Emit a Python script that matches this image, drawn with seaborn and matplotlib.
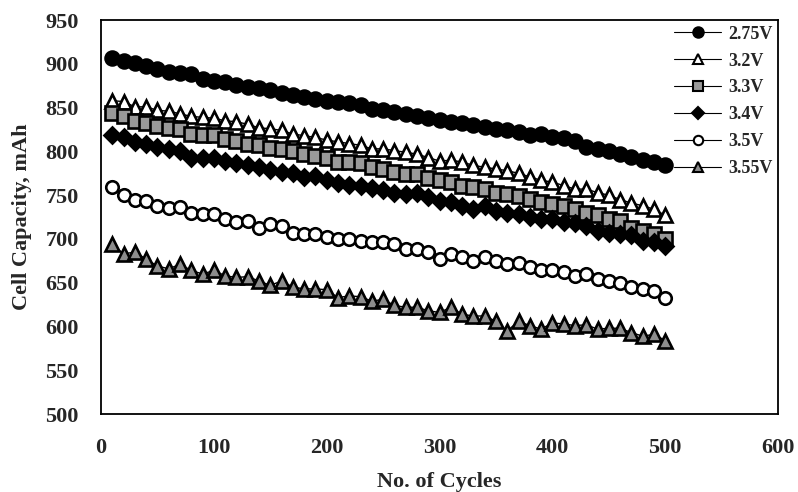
import numpy as np
import pandas as pd
import matplotlib
matplotlib.use("Agg")
import matplotlib.pyplot as plt
import seaborn as sns

# cycles 10..500, every 10 cycles
cycles = list(range(10, 510, 10))

v275 = [907, 903, 901, 898, 894, 891, 890, 888, 883, 881, 879, 876, 874, 872, 870, 867, 865, 862, 860,
        858, 857, 855, 853, 849, 847, 845, 843, 841, 838, 836, 834, 833, 830, 828, 826, 825, 822, 819,
        820, 816, 815, 812, 805, 803, 801, 797, 794, 790, 788, 785]
v32 = [858, 857, 851, 851, 847, 846, 843, 840, 839, 838, 835, 834, 831, 827, 826, 824, 820, 818, 816,
       813, 811, 809, 807, 803, 803, 801, 799, 797, 793, 789, 790, 788, 784, 782, 780, 778, 775, 771,
       767, 765, 761, 757, 757, 753, 750, 745, 741, 738, 734, 727]
v33 = [844, 840, 835, 833, 829, 827, 826, 820, 819, 819, 814, 812, 809, 807, 804, 803, 800, 797, 795,
       793, 788, 788, 787, 782, 780, 776, 774, 774, 770, 767, 765, 761, 759, 757, 753, 751, 749, 746,
       742, 740, 738, 734, 730, 727, 723, 721, 713, 709, 706, 700]
v34 = [819, 816, 811, 809, 805, 803, 800, 793, 793, 792, 789, 787, 785, 782, 779, 776, 775, 771, 772,
       767, 764, 762, 761, 758, 756, 753, 751, 752, 748, 743, 742, 738, 734, 738, 732, 730, 728, 725,
       723, 723, 719, 718, 715, 709, 707, 706, 704, 698, 696, 692]
v35 = [759, 750, 744, 743, 738, 735, 736, 730, 729, 728, 723, 719, 721, 713, 717, 715, 707, 706, 706,
       702, 700, 700, 698, 696, 697, 694, 689, 689, 685, 677, 683, 679, 675, 679, 675, 671, 673, 668,
       664, 664, 662, 658, 660, 654, 652, 650, 645, 643, 641, 633]
v355 = [694, 683, 685, 677, 669, 666, 671, 664, 660, 664, 658, 656, 657, 652, 647, 652, 645, 643, 643,
        642, 633, 635, 634, 629, 631, 624, 622, 622, 618, 616, 622, 614, 612, 612, 606, 595, 606, 601,
        597, 604, 603, 601, 602, 597, 598, 598, 593, 589, 591, 584]

labels = ["2.75V", "3.2V", "3.3V", "3.4V", "3.5V", "3.55V"]
series = [v275, v32, v33, v34, v35, v355]

# marker, face colour, marker size
styles = [("o", "black", 10), ("^", "white", 9.5), ("s", "#999999", 9.5),
          ("D", "black", 8), ("o", "white", 9), ("^", "#8c8c8c", 9.5)]

df = pd.DataFrame({"cycle": cycles * len(labels),
                   "capacity": sum(series, []),
                   "voltage": np.repeat(labels, len(cycles))})

sns.set_style("white")
plt.rcParams["font.family"] = ["Liberation Serif", "DejaVu Serif"]
plt.rcParams["font.weight"] = "bold"

fig = plt.figure(figsize=(7.98, 4.92), dpi=100)
ax = fig.add_axes([0.1266, 0.1585, 0.8484, 0.8005])

for lab, (mk, fc, ms) in zip(labels, styles):
    sub = df[df["voltage"] == lab]
    sns.lineplot(data=sub, x="cycle", y="capacity", ax=ax, color="black", lw=1,
                 marker=mk, markersize=ms, markerfacecolor=fc, markeredgecolor="black",
                 markeredgewidth=1.9, label=lab)

ax.set_xlim(0, 600)
ax.set_ylim(500, 950)
ax.set_xticks(range(0, 601, 100))
ax.set_yticks(range(500, 951, 50))
ax.tick_params(axis="both", direction="in", length=4, width=0.8, labelsize=16)
ax.tick_params(axis="y", pad=16)
ax.tick_params(axis="x", pad=17)
for s in ax.spines.values():
    s.set_color("black")
    s.set_linewidth(1.3)

ax.set_xlabel("No. of Cycles", fontsize=16, fontweight="bold", labelpad=10)
ax.set_ylabel("Cell Capacity, mAh", fontsize=16, fontweight="bold", labelpad=10)

leg = ax.legend(loc="upper right", frameon=False, fontsize=13, markerscale=0.75,
                handlelength=2.6, handletextpad=0.4, labelspacing=0.55,
                borderaxespad=0.1, borderpad=0.2)
for h in leg.legend_handles:
    h.set_linewidth(0.8)
    h.set_markeredgewidth(1.5)

fig.savefig("out.png", dpi=100)
